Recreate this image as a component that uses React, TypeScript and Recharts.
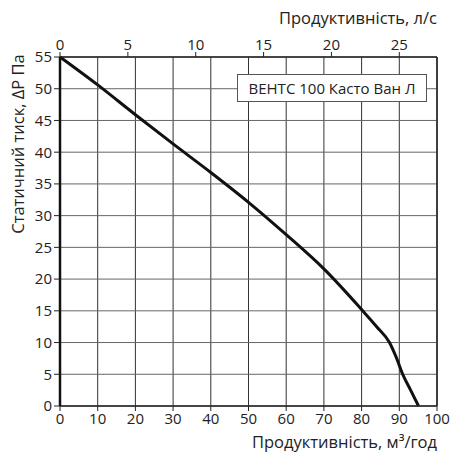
import { LineChart, Line, XAxis, YAxis, CartesianGrid, ReferenceLine, Legend, Label } from "recharts";

const flowM3h = [0, 10, 20, 30, 40, 50, 60, 70, 80, 84, 87.4, 89.3, 90.9, 93, 95.1];
const pressurePa = [55, 50.6, 45.9, 41.3, 36.8, 32.1, 27.0, 21.6, 15.2, 12.5, 10, 7.5, 5, 2.5, 0];
const m3hTicks = [0, 10, 20, 30, 40, 50, 60, 70, 80, 90, 100];
const lsTicks = [0, 5, 10, 15, 20, 25];
const paTicks = [0, 5, 10, 15, 20, 25, 30, 35, 40, 45, 50, 55];
const seriesName = "ВЕНТС 100 Касто Ван Л";

// 1 л/с = 3.6 м³/год
const LS_TO_M3H = 3.6;

const data = flowM3h.map((q, i) => ({ q, p: pressurePa[i] }));

const FONT = "'Open Sans', 'Noto Sans', sans-serif";
const tickStyle = { fill: "#222", fontSize: 15, fontFamily: FONT };
const titleStyle = { fill: "#222", fontSize: 16.5, fontFamily: FONT };

function LegendBox() {
  return (
    <div
      style={{
        border: "1px solid #555",
        background: "#fff",
        fontFamily: FONT,
        fontSize: 15,
        color: "#222",
        height: 26,
        lineHeight: "26px",
        textAlign: "center",
      }}
    >
      {seriesName}
    </div>
  );
}

function AxisTitle({ text, x, y, rotate }: { text: string; x: number; y: number; rotate?: boolean }) {
  return (
    <text
      x={x}
      y={y}
      transform={rotate ? `rotate(-90 ${x} ${y})` : undefined}
      textAnchor={rotate ? "middle" : "end"}
      dominantBaseline="central"
      style={titleStyle}
    >
      {text}
    </text>
  );
}

export default function App() {
  return (
    <div style={{ position: "absolute", left: 0, top: 0, width: 453, height: 460, background: "#fff" }}>
      <LineChart width={453} height={460} data={data} margin={{ top: 0, right: 16, left: 0, bottom: 0 }}>
        <CartesianGrid xAxisId="m3" horizontal={false} stroke="#333" strokeDasharray="0" />
        <CartesianGrid xAxisId="m3" vertical={false} stroke="#666" strokeDasharray="0" />
        <XAxis
          xAxisId="m3"
          dataKey="q"
          type="number"
          domain={[0, 100]}
          ticks={m3hTicks}
          interval={0}
          tickSize={5}
          tickLine={{ stroke: "#222" }}
          axisLine={{ stroke: "#222", strokeWidth: 1.5 }}
          tick={tickStyle}
          height={54}
        >
          <Label content={() => <AxisTitle text="Продуктивність, м³/год" x={437} y={441} />} />
        </XAxis>
        <XAxis
          xAxisId="ls"
          dataKey="q"
          orientation="top"
          type="number"
          domain={[0, 100]}
          ticks={lsTicks.map((v) => v * LS_TO_M3H)}
          tickFormatter={(v) => String(Math.round(v / LS_TO_M3H))}
          interval={0}
          tickSize={5}
          tickLine={{ stroke: "#222" }}
          axisLine={{ stroke: "#222", strokeWidth: 1.5 }}
          tick={tickStyle}
          height={57}
        >
          <Label content={() => <AxisTitle text="Продуктивність, л/с" x={437} y={17} />} />
        </XAxis>
        <YAxis
          type="number"
          domain={[0, 55]}
          ticks={paTicks}
          interval={0}
          tickSize={6}
          tickLine={{ stroke: "#222" }}
          axisLine={{ stroke: "#111", strokeWidth: 2.5 }}
          tick={tickStyle}
          width={60}
        >
          <Label content={() => <AxisTitle text="Статичний тиск, ΔР Па" x={17} y={144} rotate />} />
        </YAxis>
        <ReferenceLine xAxisId="m3" x={100} stroke="#222" strokeWidth={1.5} />
        <Legend
          content={<LegendBox />}
          layout="horizontal"
          verticalAlign="middle"
          align="center"
          wrapperStyle={{ top: 74, left: 237, width: 190 }}
        />
        <Line
          xAxisId="m3"
          type="monotoneX"
          dataKey="p"
          name={seriesName}
          stroke="#111"
          strokeWidth={3}
          dot={false}
          isAnimationActive={false}
        />
      </LineChart>
    </div>
  );
}
